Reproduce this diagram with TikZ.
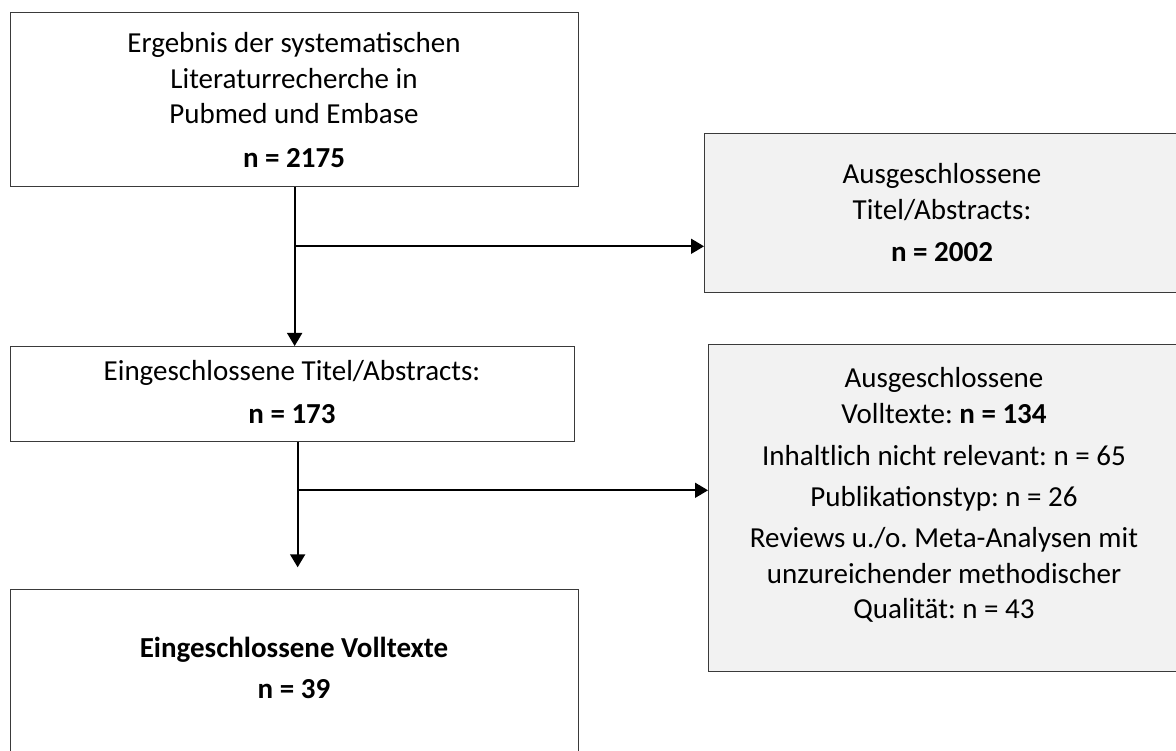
\documentclass[tikz,border=0pt]{standalone}
\usepackage{fontspec}
\setmainfont{Carlito}
\usetikzlibrary{arrows.meta,calc}
\definecolor{boxgray}{HTML}{F2F2F2}
\definecolor{edge}{HTML}{3A3A3A}
\frenchspacing
\begin{document}
\begin{tikzpicture}[x=1pt,y=-1pt,
  box/.style={draw=edge, line width=1.3pt, fill=white, inner sep=0pt, anchor=north west},
  gbox/.style={box, fill=boxgray},
  ln/.style={anchor=base, inner sep=0pt, font=\fontsize{29}{33}\selectfont},
  bl/.style={anchor=base, inner sep=0pt, font=\fontsize{29}{33}\selectfont\bfseries},
  conn/.style={line width=1.8pt, draw=black},
  arr/.style={conn, -{Triangle[length=13pt,width=15pt]}}]
\useasboundingbox (0,0) rectangle (1176,751);
\clip (0,0) rectangle (1176,751);

% boxes
\node[box,  minimum width=568pt, minimum height=174pt] (b1) at (10,12) {};
\node[gbox, minimum width=476pt, minimum height=159pt] (b2) at (704,133) {};
\node[box,  minimum width=564pt, minimum height=95pt]  (b3) at (10,346) {};
\node[gbox, minimum width=472pt, minimum height=327pt] (b4) at (708,344) {};
\node[box,  minimum width=568pt, minimum height=171pt] (b5) at (10,589) {};

% texts box 1
\node[ln] (t1a) at (294,53)  {Ergebnis der systematischen};
\node[ln] (t1b) at (294,89)  {Literaturrecherche in};
\node[ln] (t1c) at (294,124) {Pubmed und Embase};
\node[bl] (t1d) at (294,168) {n = 2175};

% texts box 2
\node[ln] (t2a) at (942,184) {Ausgeschlossene};
\node[ln] (t2b) at (942,220) {Titel/Abstracts:};
\node[bl] (t2c) at (942,262) {n = 2002};

% texts box 3
\node[ln] (t3a) at (292,381) {Eingeschlossene Titel/Abstracts:};
\node[bl] (t3b) at (292,423) {n = 173};

% texts box 4
\node[ln] (t4a) at (944,388) {Ausgeschlossene};
\node[ln] (t4b) at (944,423) {Volltexte: \textbf{n = 134}};
\node[ln] (t4c) at (944,465) {Inhaltlich nicht relevant: n = 65};
\node[ln] (t4d) at (944,506) {Publikationstyp: n = 26};
\node[ln] (t4e) at (944,547) {Reviews u./o. Meta-Analysen mit};
\node[ln] (t4f) at (944,583) {unzureichender methodischer};
\node[ln] (t4g) at (944,618) {Qualität: n = 43};

% texts box 5
\node[bl] (t5a) at (294,657) {Eingeschlossene Volltexte};
\node[bl] (t5b) at (294,698) {n = 39};

% connectors
\coordinate (j1) at ($(b1.south)+(0,59)$);
\draw[arr] (b1.south) -- (b1.south |- b3.north);
\draw[arr] (j1) -- (j1 -| b2.west);

\coordinate (s3) at ([xshift=5pt]b3.south);
\coordinate (j2) at ($(s3)+(0,48)$);
\coordinate (e2) at ($(s3)+(0,125)$);
\draw[arr] (s3) -- (e2);
\draw[arr] (j2) -- (j2 -| b4.west);
\end{tikzpicture}
\end{document}
